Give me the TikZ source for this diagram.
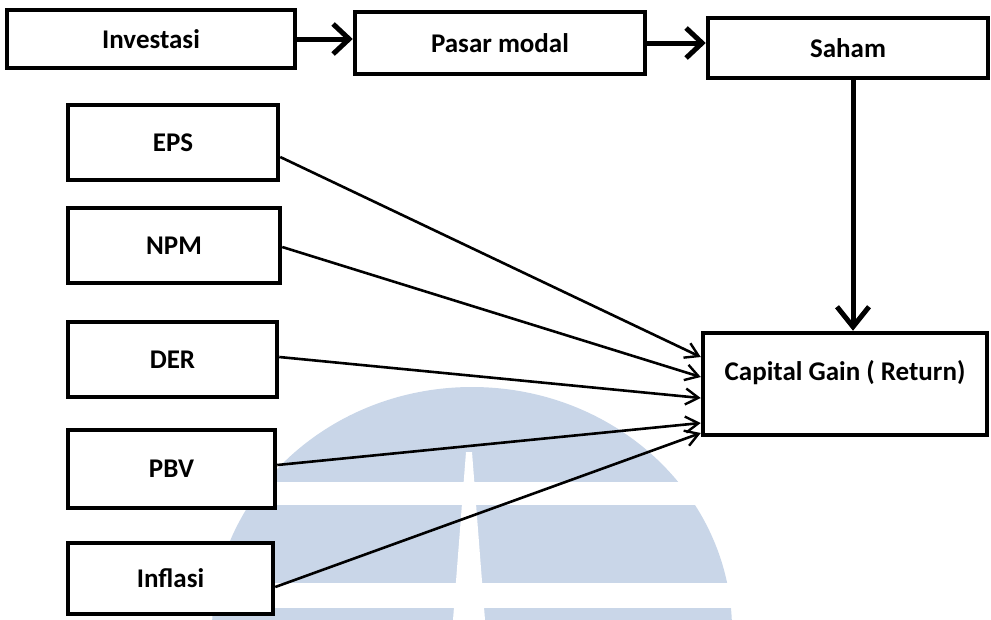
\documentclass[tikz,border=0pt]{standalone}
\usepackage{fontspec}
\setmainfont{Carlito}
\usetikzlibrary{arrows.meta,calc}
\definecolor{wm}{RGB}{201,214,232}
\tikzset{
  box/.style={draw=black, line width=4.5pt, fill=white, rectangle, inner sep=0pt,
    font=\fontsize{27}{32}\selectfont\bfseries},
  bigarrow/.style={line width=5pt, -{Straight Barb[length=16pt,width=30pt,line width=5pt]}},
  downarrow/.style={line width=5pt, -{Straight Barb[length=20pt,width=32pt,line width=5pt]}},
  thinarrow/.style={line width=2.6pt, -{Straight Barb[length=13pt,width=16pt,line width=2.4pt]}},
}
\begin{document}
\begin{tikzpicture}[x=1pt,y=-1pt]
\useasboundingbox (0,0) rectangle (991,619);
% watermark
\begin{scope}
\clip (0,0) rectangle (991,619);
\fill[wm] (472,630) ellipse [x radius=260, y radius=243];
\fill[white] (0,482) rectangle (991,505);
\fill[white] (0,583) rectangle (991,608);
\fill[white] (466,452) -- (472,452) -- (485,620) -- (453,620) -- cycle;
\end{scope}
% boxes
\node[box, minimum width=288pt, minimum height=58pt] (inv) at (151,39) {Investasi};
\node[box, minimum width=290pt, minimum height=62pt] (pas) at (500,43) {Pasar modal};
\node[box, minimum width=280pt, minimum height=60pt] (sah) at (848,48) {Saham};
\node[box, minimum width=210pt, minimum height=75pt] (eps) at (173,142.5) {EPS};
\node[box, minimum width=212pt, minimum height=75pt] (npm) at (174,245.5) {NPM};
\node[box, minimum width=209pt, minimum height=75pt] (der) at (172.5,359.5) {DER};
\node[box, minimum width=207pt, minimum height=78pt] (pbv) at (171.5,469) {PBV};
\node[box, minimum width=205pt, minimum height=71pt] (inf) at (170.5,578.5) {Inflasi};
\node[box, minimum width=284pt, minimum height=102pt,
  label={[font=\fontsize{27}{32}\selectfont\bfseries, yshift=11pt]center:Capital Gain ( Return)}] (cg) at (845,384) {};
% top arrows
\draw[bigarrow] (inv.east) -- (inv.east -| pas.west);
\draw[bigarrow] (pas.east) -- (pas.east -| sah.west);
\draw[downarrow] ($(sah.south)+(5,0)$) -- ($(sah.south |- cg.north)+(5,0)$);
% thin arrows
\draw[thinarrow] ($(eps.east)+(0,14.5)$) -- ($(cg.west)+(0,-27)$);
\draw[thinarrow] ($(npm.east)+(0,1.5)$) -- ($(cg.west)+(0,-7)$);
\draw[thinarrow] ($(der.east)+(0,-2.5)$) -- ($(cg.west)+(0,14)$);
\draw[thinarrow] ($(pbv.east)+(0,-4)$) -- ($(cg.west)+(0,39)$);
\draw[thinarrow] ($(inf.east)+(0,8.5)$) -- ($(cg.west)+(0,49)$);
\end{tikzpicture}
\end{document}
